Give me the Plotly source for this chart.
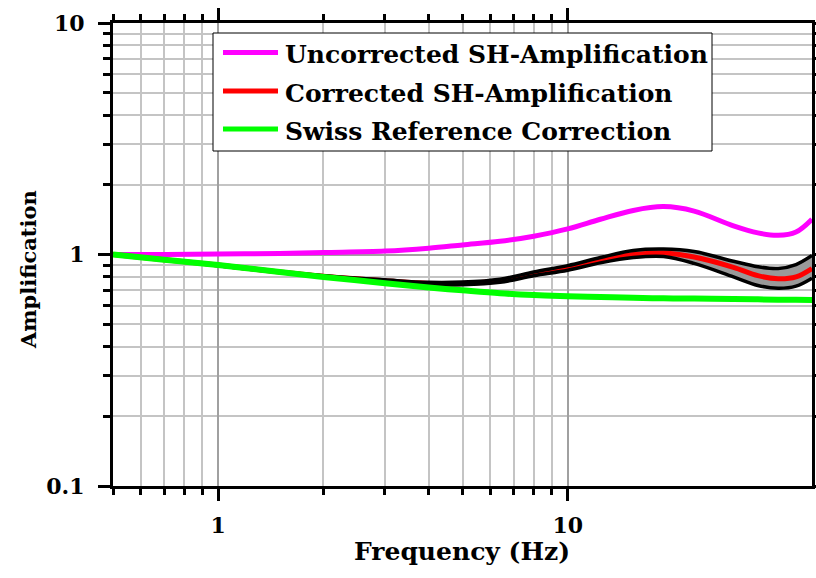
import plotly.graph_objects as go

# Frequency samples (Hz)
freq = [0.5, 0.7, 1.0, 1.5, 2.0, 3.0, 4.0, 5.0, 6.4, 8.0, 10.0, 12.4, 15.4,
        18.8, 23.0, 29.8, 35.0, 40.0, 45.0, 50.0]

# Uncorrected SH amplification
uncorrected = [1.0, 1.0, 1.005, 1.01, 1.02, 1.035, 1.065, 1.10, 1.14, 1.20,
               1.29, 1.42, 1.55, 1.61, 1.54, 1.33, 1.24, 1.21, 1.25, 1.42]

# Corrected SH amplification (median) and its bounds
corrected = [1.0, 0.95, 0.90, 0.84, 0.805, 0.77, 0.75, 0.75, 0.77, 0.825,
             0.875, 0.945, 1.0, 1.015, 0.975, 0.88, 0.81, 0.785, 0.80, 0.87]
corr_upper = [1.0, 0.952, 0.905, 0.845, 0.81, 0.777, 0.758, 0.76, 0.782, 0.84,
              0.895, 0.97, 1.04, 1.055, 1.03, 0.935, 0.885, 0.87, 0.905, 0.99]
corr_lower = [1.0, 0.948, 0.895, 0.835, 0.80, 0.763, 0.742, 0.74, 0.758, 0.81,
              0.855, 0.92, 0.97, 0.98, 0.915, 0.80, 0.735, 0.715, 0.73, 0.79]

# Swiss reference correction
swiss_ref = [1.0, 0.95, 0.90, 0.84, 0.80, 0.752, 0.72, 0.70, 0.68, 0.668,
             0.66, 0.655, 0.65, 0.647, 0.645, 0.642, 0.64, 0.638, 0.637, 0.636]

series_names = ["Uncorrected SH-Amplification", "Corrected SH-Amplification",
                "Swiss Reference Correction"]
series_colors = ["#ff00ff", "#ff0000", "#00ff00"]

x_major = [1, 10]
x_major_text = ["1", "10"]
x_minor = [0.5, 0.6, 0.7, 0.8, 0.9, 2, 3, 4, 5, 6, 7, 8, 9]
y_major = [0.1, 1, 10]
y_major_text = ["0.1", "1", "10"]
y_minor = [0.2, 0.3, 0.4, 0.5, 0.6, 0.7, 0.8, 0.9, 2, 3, 4, 5, 6, 7, 8, 9]

FONT = "DejaVu Serif, serif"

W, H = 816, 578
L, R, T, B = 113, 4, 23, 92
PW, PH = W - L - R, H - T - B


def px(x):
    return (x - L) / PW


def py(y):
    return (H - B - y) / PH


fig = go.Figure()

fig.add_trace(go.Scatter(x=freq, y=uncorrected, mode="lines",
                         line=dict(color=series_colors[0], width=5, shape="spline"),
                         name=series_names[0]))
# shaded band between bounds
fig.add_trace(go.Scatter(x=freq, y=corr_lower, mode="lines",
                         line=dict(color="black", width=0, shape="spline"),
                         hoverinfo="skip"))
fig.add_trace(go.Scatter(x=freq, y=corr_upper, mode="lines",
                         fill="tonexty", fillcolor="#999999",
                         line=dict(color="black", width=0, shape="spline"),
                         hoverinfo="skip"))
fig.add_trace(go.Scatter(x=freq, y=corrected, mode="lines",
                         line=dict(color=series_colors[1], width=5, shape="spline"),
                         name=series_names[1]))
for bound in (corr_upper, corr_lower):
    fig.add_trace(go.Scatter(x=freq, y=bound, mode="lines",
                             line=dict(color="black", width=3.5, shape="spline"),
                             hoverinfo="skip"))
fig.add_trace(go.Scatter(x=freq, y=swiss_ref, mode="lines",
                         line=dict(color=series_colors[2], width=6, shape="spline"),
                         name=series_names[2]))

# legend box drawn in paper coordinates
shapes = [dict(type="rect", xref="paper", yref="paper",
               x0=px(213), x1=px(712), y0=py(151), y1=py(33),
               line=dict(color="black", width=1), fillcolor="white", layer="above")]
annotations = []
row_y = [52.5, 91, 129]
for name, color, ry in zip(series_names, series_colors, row_y):
    shapes.append(dict(type="line", xref="paper", yref="paper",
                       x0=px(223), x1=px(278), y0=py(ry), y1=py(ry),
                       line=dict(color=color, width=5), layer="above"))
    annotations.append(dict(xref="paper", yref="paper", x=px(283), y=py(ry + 2),
                            xanchor="left", yanchor="middle", showarrow=False,
                            text=name,
                            font=dict(family=FONT, size=25, color="black", weight="bold")))

# axis titles
annotations.append(dict(xref="paper", yref="paper", x=px(462), y=py(551),
                        xanchor="center", yanchor="middle", showarrow=False,
                        text="Frequency (Hz)",
                        font=dict(family=FONT, size=25, color="black", weight="bold")))
annotations.append(dict(xref="paper", yref="paper", x=px(28), y=py(270),
                        xanchor="center", yanchor="middle", showarrow=False,
                        text="Amplification", textangle=-90,
                        font=dict(family=FONT, size=21, color="black", weight="bold")))

axis_common = dict(
    type="log", automargin=False,
    showline=True, linecolor="black", linewidth=3, mirror="ticks",
    ticks="outside", tickwidth=3, tickcolor="black", ticklen=12,
    showgrid=True, gridcolor="#a0a0a0", gridwidth=1.5,
    zeroline=False,
    tickfont=dict(family=FONT, size=22, color="black", weight="bold"),
)

fig.update_xaxes(
    **axis_common,
    range=[-0.30103, 1.69897],
    tickmode="array", tickvals=x_major, ticktext=x_major_text,
    ticklabelstandoff=6,
    minor=dict(tickmode="array", tickvals=x_minor, ticks="outside", ticklen=6,
               tickwidth=3, tickcolor="black", showgrid=True,
               gridcolor="#c4c4c4", gridwidth=1.5),
)
fig.update_yaxes(
    **axis_common,
    range=[-1, 1],
    tickmode="array", tickvals=y_major, ticktext=y_major_text,
    ticklabelstandoff=9,
    minor=dict(tickmode="array", tickvals=y_minor, ticks="outside", ticklen=7,
               tickwidth=3, tickcolor="black", showgrid=True,
               gridcolor="#c4c4c4", gridwidth=1.5),
)

fig.update_layout(
    width=W, height=H,
    margin=dict(l=L, r=R, t=T, b=B, autoexpand=False),
    paper_bgcolor="white", plot_bgcolor="white",
    showlegend=False,
    shapes=shapes, annotations=annotations,
)

fig.write_html("out.html")
